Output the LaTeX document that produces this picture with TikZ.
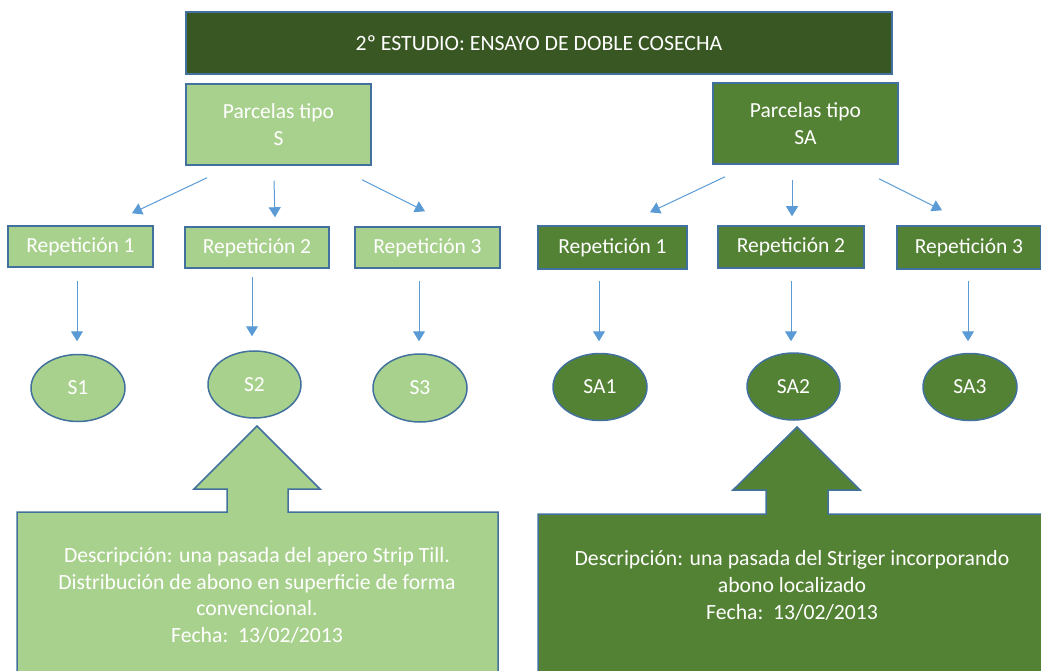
\documentclass[tikz,border=0pt]{standalone}
\usepackage{fontspec}
\setmainfont{Carlito}
\usetikzlibrary{arrows.meta,calc,shapes.geometric}
\definecolor{lgreen}{HTML}{A9D18E}
\definecolor{mgreen}{HTML}{548235}
\definecolor{dgreen}{HTML}{385723}
\definecolor{bord}{HTML}{41719C}
\definecolor{arrc}{HTML}{5B9BD5}
\tikzset{
  txt/.style={font=\fontsize{21.5}{27}\selectfont, text=white},
  boxl/.style={txt, draw=bord, line width=1.5pt, fill=lgreen, inner sep=0pt, align=center},
  boxm/.style={txt, draw=bord, line width=1.5pt, fill=mgreen, inner sep=0pt, align=center},
  ell/.style={txt, ellipse, draw=bord, line width=1.5pt, inner sep=0pt},
  conn/.style={draw=arrc, line width=1pt, -{Triangle[length=10pt,width=12pt]}},
  callout/.style={draw=bord, line width=1.5pt}
}
\begin{document}
\begin{tikzpicture}[x=1pt,y=-1pt]
\useasboundingbox (0,0) rectangle (1041,671);
% title
\node[boxm, fill=dgreen, minimum width=706pt, minimum height=62pt, font=\fontsize{21.8}{27}\selectfont] (title) at (539,43) {2º ESTUDIO: ENSAYO DE DOBLE COSECHA};
% parcelas
\node[boxl, minimum width=185pt, minimum height=81pt, text depth=0pt] (ps) at (278.5,124.5) {Parcelas tipo\\S};
\node[boxm, minimum width=185pt, minimum height=81pt, text depth=0pt] (psa) at (805.5,123.5) {Parcelas tipo\\SA};
% repeticiones S
\node[boxl, minimum width=145pt, minimum height=41pt] (r1) at (80.5,246.5) {Repetición 1};
\node[boxl, minimum width=144pt, minimum height=41pt] (r2) at (257,247.5) {Repetición 2};
\node[boxl, minimum width=145pt, minimum height=41pt] (r3) at (427.5,247.5) {Repetición 3};
% repeticiones SA
\node[boxm, minimum width=149pt, minimum height=43pt] (sr1) at (612.5,247.5) {Repetición 1};
\node[boxm, minimum width=146pt, minimum height=42pt] (sr2) at (791,247) {Repetición 2};
\node[boxm, minimum width=144pt, minimum height=43pt] (sr3) at (969,247.5) {Repetición 3};
% ellipses
\node[ell, fill=lgreen, minimum width=94pt, minimum height=67pt] (s1) at (78,388) {S1};
\node[ell, fill=lgreen, minimum width=93pt, minimum height=67pt] (s2) at (254.5,384.5) {S2};
\node[ell, fill=lgreen, minimum width=94pt, minimum height=68pt] (s3) at (420,388) {S3};
\node[ell, fill=mgreen, minimum width=94pt, minimum height=67pt] (sa1) at (600,387) {SA1};
\node[ell, fill=mgreen, minimum width=93pt, minimum height=67pt] (sa2) at (793.5,386.5) {SA2};
\node[ell, fill=mgreen, minimum width=94pt, minimum height=67pt] (sa3) at (970,387) {SA3};
% connectors S
\draw[conn] ($(ps.south)+(-71.5,12)$) -- ($(r1.north)+(51.5,-12)$);
\draw[conn] ($(ps.south)+(-4.5,15)$) -- ($(r2.north)+(18,-9)$);
\draw[conn] ($(ps.south)+(83.5,14)$) -- ($(r3.north)+(-2.5,-15)$);
% connectors SA
\draw[conn] ($(psa.south)+(-80.5,12)$) -- ($(sr1.north)+(37.5,-13)$);
\draw[conn] ($(psa.south)+(-13.5,15)$) -- ($(sr2.north)+(1,-9)$);
\draw[conn] ($(psa.south)+(73.5,14)$) -- ($(sr3.north)+(-27,-15)$);
% vertical connectors
\draw[conn] ($(r1.south)+(-3.5,13)$) -- ($(s1.north)+(-1,-12.5)$);
\draw[conn] ($(r2.south)+(-5,8)$) -- ($(s2.north)+(-2.5,-14)$);
\draw[conn] ($(r3.south)+(-8.5,12)$) -- ($(s3.north)+(-1,-12)$);
\draw[conn] ($(sr1.south)+(-13.5,11)$) -- ($(sa1.north)+(-1,-11.5)$);
\draw[conn] ($(sr2.south)+(0,12)$) -- ($(sa2.north)+(-2.5,-11)$);
\draw[conn] ($(sr3.south)+(-1,11)$) -- ($(sa3.north)+(-2,-11.5)$);
% callouts
\draw[callout, fill=lgreen] (257,426) -- (320,489) -- (288,489) -- (288,512) -- (498,512) -- (498,700) -- (17,700) -- (17,512) -- (227,512) -- (227,489) -- (194,489) -- cycle;
\draw[callout, fill=mgreen] (797,427) -- (860,490) -- (828,490) -- (828,514) -- (1060,514) -- (1060,700) -- (538,700) -- (538,514) -- (766,514) -- (766,490) -- (733,490) -- cycle;
\node[txt, align=center, font=\fontsize{21.7}{26.7}\selectfont] (d1) at (257,595.5) {Descripción: una pasada del apero Strip Till.\\Distribución de abono en superficie de forma\\convencional.\\Fecha:\ \ 13/02/2013};
\node[txt, align=center, font=\fontsize{21.7}{27}\selectfont] (d2) at (792,585.5) {Descripción: una pasada del Striger incorporando\\abono localizado\\Fecha:\ \ 13/02/2013};
\end{tikzpicture}
\end{document}
